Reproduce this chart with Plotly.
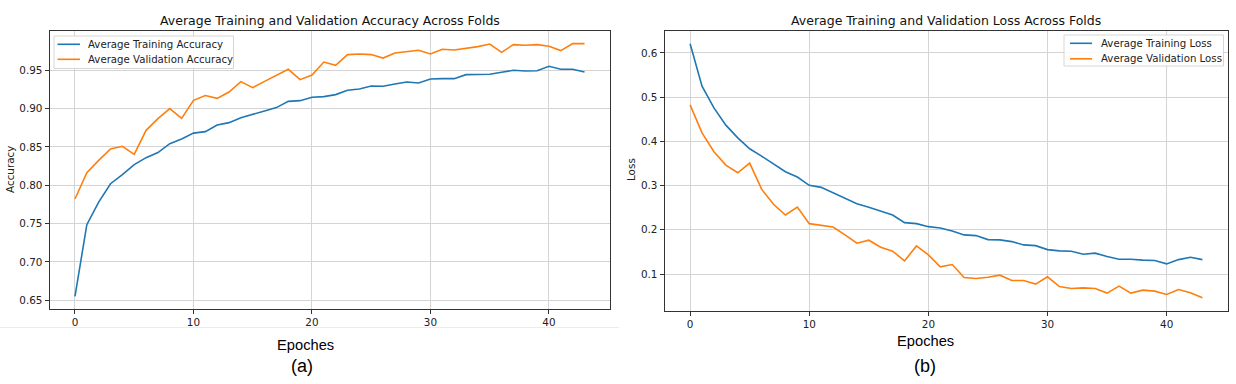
import plotly.graph_objects as go

epochs = list(range(44))

train_acc = [0.655, 0.7485, 0.778, 0.802, 0.814, 0.827, 0.836, 0.8426, 0.8543, 0.8603,
             0.868, 0.870, 0.8786, 0.8817, 0.8882, 0.893, 0.8969, 0.9013, 0.9095, 0.9104,
             0.9148, 0.9157, 0.9183, 0.9239, 0.9256, 0.9295, 0.9291, 0.9321, 0.9347, 0.9334,
             0.9386, 0.9391, 0.9391, 0.9443, 0.9448, 0.9448, 0.9474, 0.950, 0.9491, 0.9495,
             0.9552, 0.9513, 0.9513, 0.9478]
val_acc = [0.782, 0.8164, 0.8325, 0.8473, 0.8508, 0.8403, 0.8717, 0.8869, 0.900, 0.8873,
           0.9108, 0.917, 0.9134, 0.9217, 0.9352, 0.9274, 0.9356, 0.9439, 0.9513, 0.9378,
           0.9439, 0.9608, 0.9565, 0.9705, 0.9713, 0.9705, 0.966, 0.9726, 0.9744, 0.9761,
           0.9713, 0.9774, 0.9765, 0.9787, 0.9809, 0.9843, 0.9735, 0.9835, 0.9826, 0.9835,
           0.9813, 0.9757, 0.9848, 0.9848]
train_loss = [0.621, 0.5248, 0.4758, 0.4368, 0.4081, 0.3833, 0.3668, 0.3494, 0.3314, 0.3194,
              0.3007, 0.2961, 0.2833, 0.2713, 0.2592, 0.2510, 0.2427, 0.2336, 0.2163, 0.214,
              0.2072, 0.2043, 0.1975, 0.1885, 0.187, 0.1779, 0.1772, 0.1734, 0.1659, 0.1643,
              0.1553, 0.1524, 0.1517, 0.1449, 0.1472, 0.1395, 0.1336, 0.1336, 0.1314, 0.1306,
              0.123, 0.1327, 0.138, 0.1327]
val_loss = [0.4826, 0.4194, 0.3765, 0.3465, 0.3291, 0.351, 0.292, 0.2578, 0.2336, 0.2517,
            0.214, 0.2095, 0.2065, 0.1885, 0.1697, 0.1765, 0.1607, 0.1517, 0.1298, 0.1636,
            0.1433, 0.1163, 0.1215, 0.0921, 0.0898, 0.0929, 0.0975, 0.0853, 0.0853, 0.0772,
            0.0937, 0.0718, 0.0673, 0.0688, 0.0673, 0.0569, 0.0726, 0.0569, 0.0636, 0.0614,
            0.0537, 0.0650, 0.0576, 0.0463]

acc_ticks = [0.65, 0.70, 0.75, 0.80, 0.85, 0.90, 0.95]
loss_ticks = [0.1, 0.2, 0.3, 0.4, 0.5, 0.6]
x_ticks = [0, 10, 20, 30, 40]

acc_names = ["Average Training Accuracy", "Average Validation Accuracy"]
loss_names = ["Average Training Loss", "Average Validation Loss"]

BLUE = "#1f77b4"
ORANGE = "#ff7f0e"
W, H = 1236, 384
MPL = "DejaVu Sans"
ARIAL = "Liberation Sans, Arial"


def px_x(p):
    return p / W


def px_y(p):
    return 1 - p / H


fig = go.Figure()
fig.add_trace(go.Scatter(x=epochs, y=train_acc, mode="lines", name=acc_names[0],
                         line=dict(color=BLUE, width=1.6), xaxis="x", yaxis="y"))
fig.add_trace(go.Scatter(x=epochs, y=val_acc, mode="lines", name=acc_names[1],
                         line=dict(color=ORANGE, width=1.6), xaxis="x", yaxis="y"))
fig.add_trace(go.Scatter(x=epochs, y=train_loss, mode="lines", name=loss_names[0],
                         line=dict(color=BLUE, width=1.6), xaxis="x2", yaxis="y2"))
fig.add_trace(go.Scatter(x=epochs, y=val_loss, mode="lines", name=loss_names[1],
                         line=dict(color=ORANGE, width=1.6), xaxis="x2", yaxis="y2"))

axis_common = dict(showline=True, mirror=True, linecolor="#333", linewidth=1,
                   ticks="outside", ticklen=4, tickcolor="#333", tickwidth=1,
                   showgrid=True, gridcolor="#d4d4d4", gridwidth=1.3, zeroline=False,
                   tickfont=dict(family=MPL, size=10.4, color="#222"))


def span(lo, hi):
    m = (hi - lo) * 0.05
    return [lo - m, hi + m]


fig.update_layout(
    width=W, height=H, margin=dict(l=0, r=0, t=0, b=0),
    paper_bgcolor="white", plot_bgcolor="white", showlegend=False,
    xaxis=dict(domain=[px_x(49.5), px_x(610)], range=span(0, 43), tickvals=x_ticks,
               anchor="y", **axis_common),
    yaxis=dict(domain=[px_y(309), px_y(31)], range=span(min(train_acc + val_acc), max(train_acc + val_acc)),
               tickvals=acc_ticks, ticktext=[f"{v:.2f}" for v in acc_ticks], anchor="x", **axis_common),
    xaxis2=dict(domain=[px_x(664.5), px_x(1228)], range=span(0, 43), tickvals=x_ticks,
                anchor="y2", **axis_common),
    yaxis2=dict(domain=[px_y(310.5), px_y(31)], range=span(min(train_loss + val_loss), max(train_loss + val_loss)),
                tickvals=loss_ticks, ticktext=[f"{v:.1f}" for v in loss_ticks], anchor="x2", **axis_common),
)

annotations = [
    dict(text="Average Training and Validation Accuracy Across Folds", x=px_x(330), y=px_y(20),
         font=dict(family=MPL, size=12.5, color="#111")),
    dict(text="Average Training and Validation Loss Across Folds", x=px_x(946), y=px_y(20),
         font=dict(family=MPL, size=12.5, color="#111")),
    dict(text="Accuracy", x=px_x(10), y=px_y(170), textangle=-90,
         font=dict(family=MPL, size=10.4, color="#222")),
    dict(text="Loss", x=px_x(631), y=px_y(170), textangle=-90,
         font=dict(family=MPL, size=10.4, color="#222")),
    dict(text="Epoches", x=px_x(305), y=px_y(345), font=dict(family=ARIAL, size=14.7, color="#000")),
    dict(text="(a)", x=px_x(302), y=px_y(366), font=dict(family=ARIAL, size=18, color="#000")),
    dict(text="Epoches", x=px_x(925), y=px_y(341), font=dict(family=ARIAL, size=14.7, color="#000")),
    dict(text="(b)", x=px_x(925), y=px_y(366), font=dict(family=ARIAL, size=18, color="#000")),
]

shapes = [
    dict(type="line", x0=px_x(0), x1=px_x(619), y0=px_y(327.5), y1=px_y(327.5),
         line=dict(color="#ececec", width=1), layer="below"),
]

# legends (matplotlib-style boxes)
legends = [
    dict(box=(54, 36, 233.5, 68.5), key=(57.5, 80), text_x=86, rows=(44.3, 59.3), names=acc_names),
    dict(box=(1064, 35, 1223.5, 66), key=(1070, 1092), text_x=1099, rows=(43.3, 58.8), names=loss_names),
]
for lg in legends:
    x0, y0, x1, y1 = lg["box"]
    shapes.append(dict(type="rect", x0=px_x(x0), x1=px_x(x1), y0=px_y(y1), y1=px_y(y0),
                       line=dict(color="#d6d6d6", width=1), fillcolor="rgba(255,255,255,0.85)",
                       layer="above"))
    for ry, col, name in zip(lg["rows"], (BLUE, ORANGE), lg["names"]):
        shapes.append(dict(type="line", x0=px_x(lg["key"][0]), x1=px_x(lg["key"][1]),
                           y0=px_y(ry), y1=px_y(ry), line=dict(color=col, width=1.6), layer="above"))
        annotations.append(dict(text=name, x=px_x(lg["text_x"]), y=px_y(ry), xanchor="left",
                                font=dict(family=MPL, size=10.2, color="#222")))

for a in annotations:
    a.setdefault("xanchor", "center")
    a.update(xref="paper", yref="paper", showarrow=False, yanchor="middle")
for s in shapes:
    s.update(xref="paper", yref="paper")
fig.update_layout(annotations=annotations, shapes=shapes)

fig.write_html("out.html", config={"displayModeBar": False},
               post_script="document.body.style.margin='0px';document.body.style.overflow='hidden';")
